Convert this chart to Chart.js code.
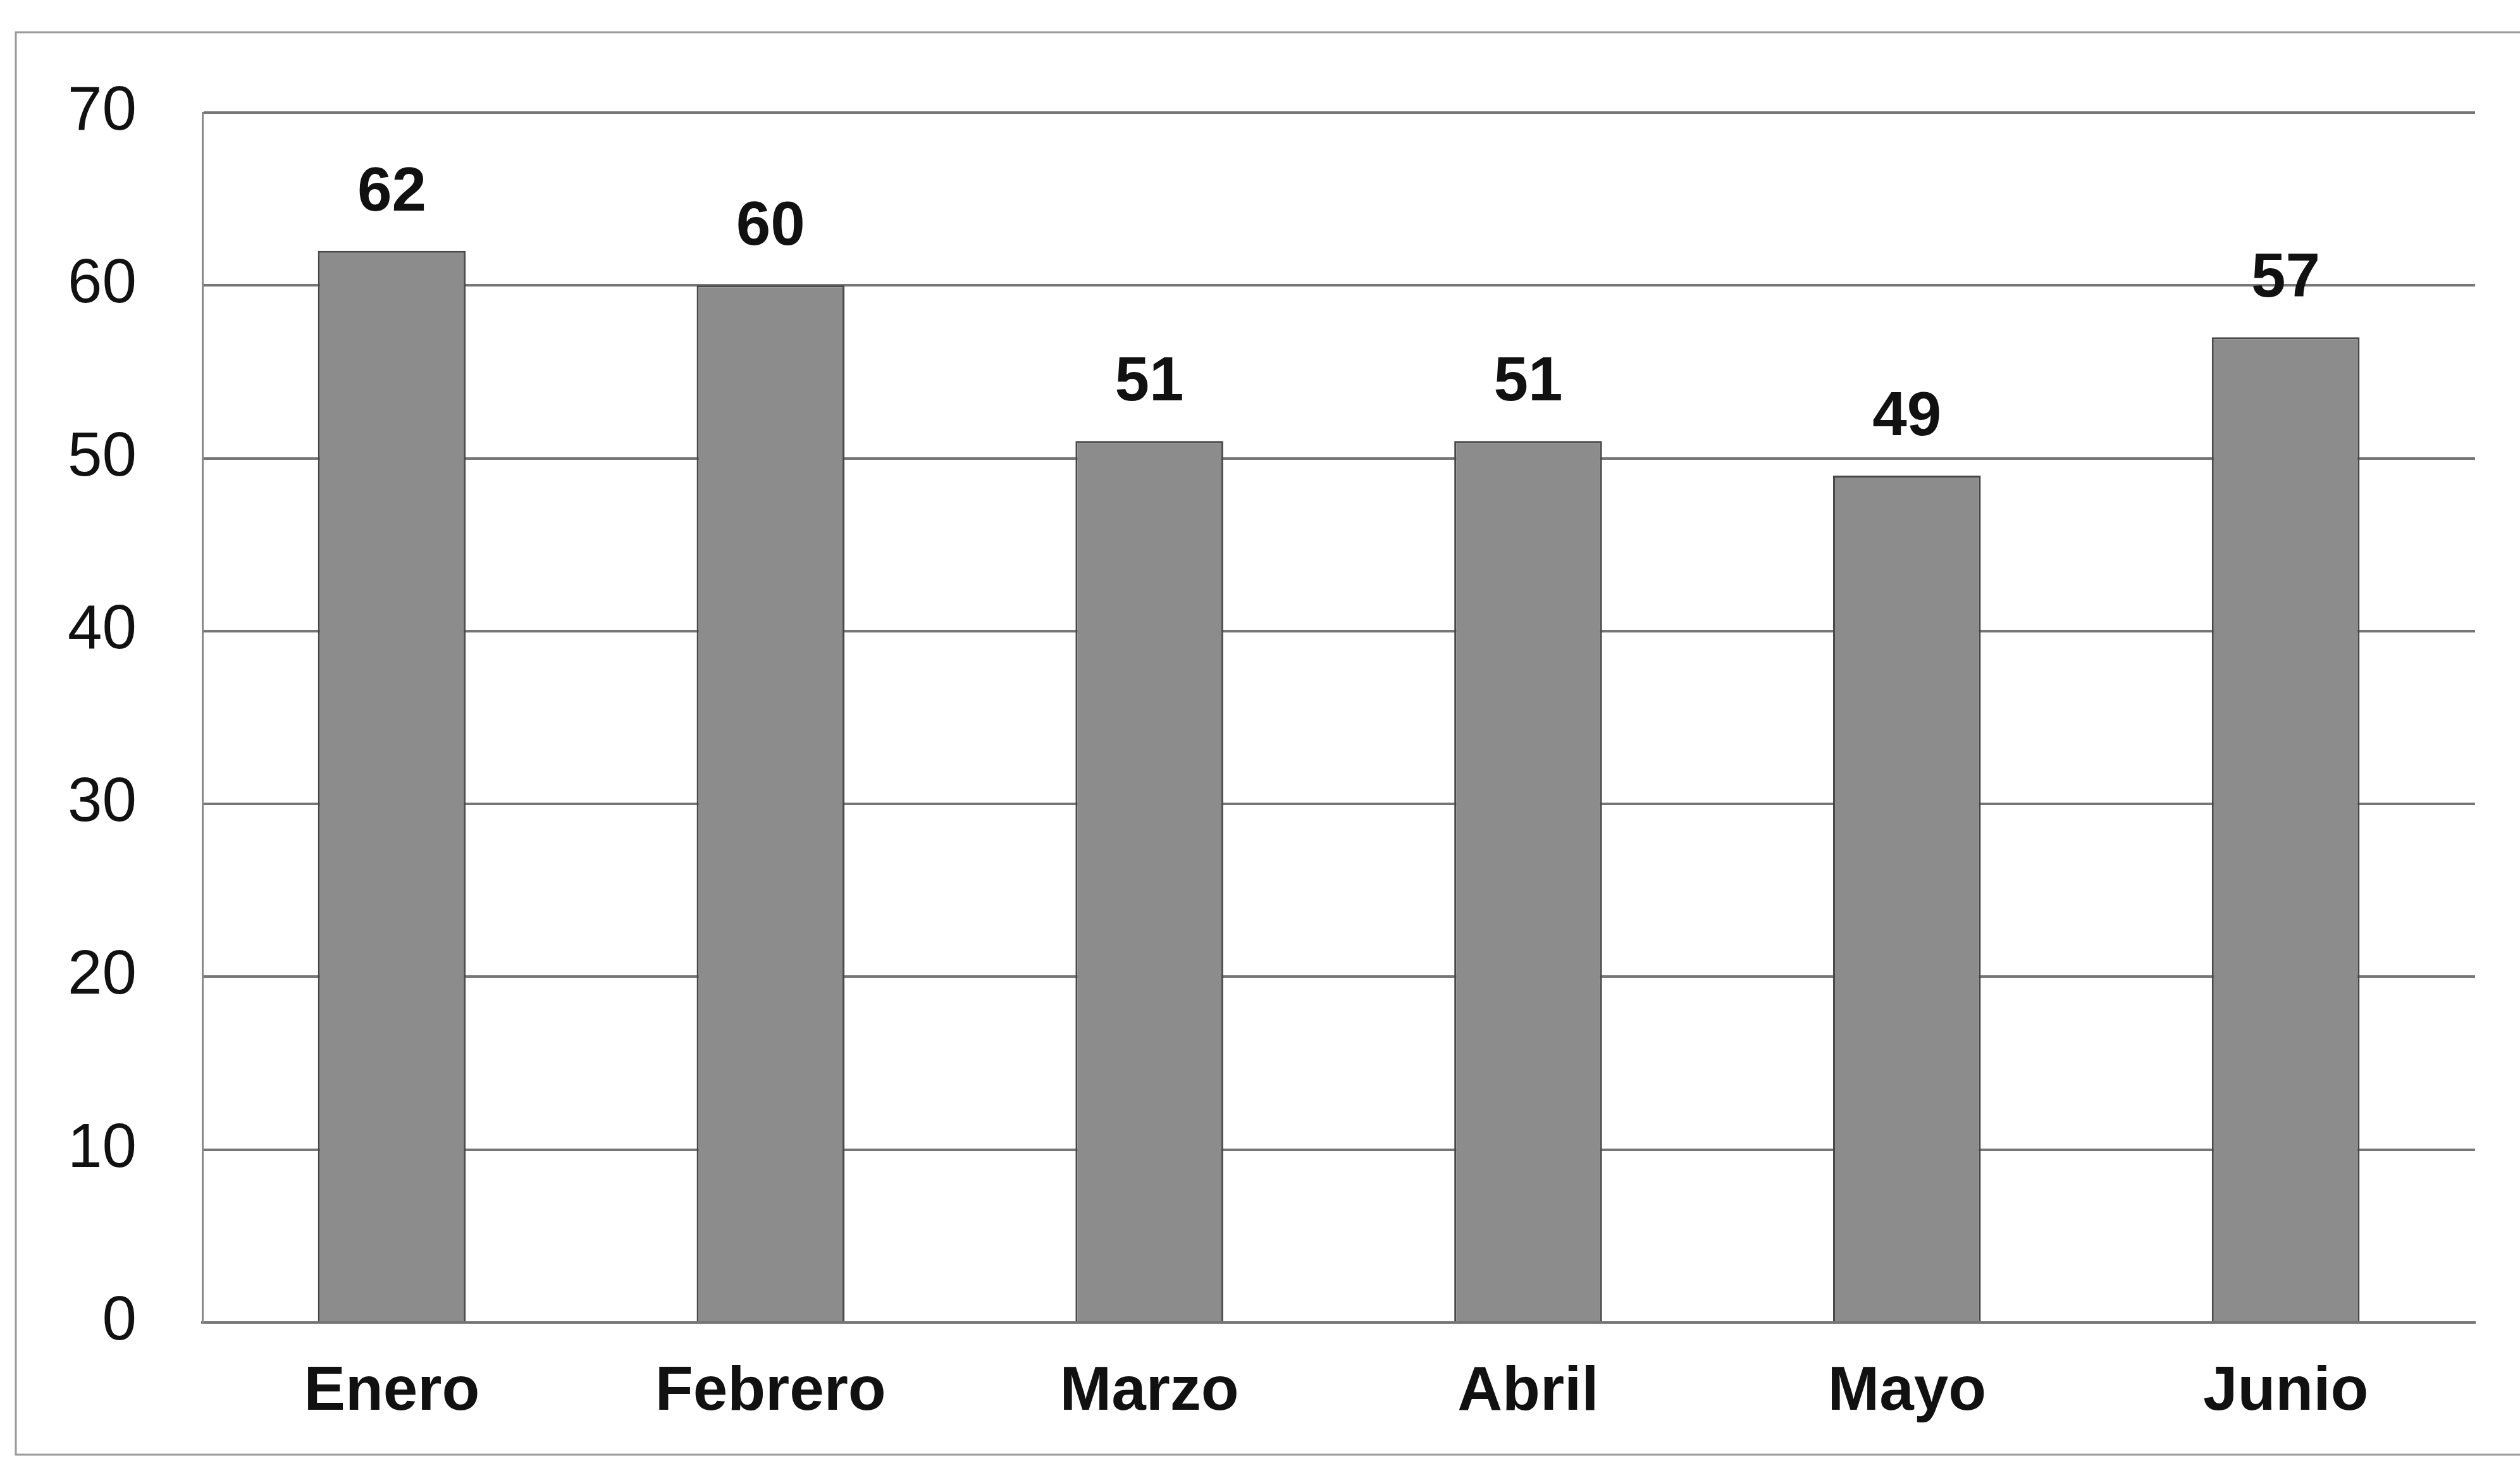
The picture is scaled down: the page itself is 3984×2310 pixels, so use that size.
<!DOCTYPE html>
<html>
<head>
<meta charset="utf-8">
<script src="https://cdn.jsdelivr.net/npm/chart.js@4"></script>
<style>
  html, body { margin: 0; padding: 0; background: #fff; }
  #wrap { width: 3984px; height: 2310px; }
</style>
</head>
<body>
<div id="wrap"><canvas id="barChart"></canvas></div>
<script>
var months = ['Enero', 'Febrero', 'Marzo', 'Abril', 'Mayo', 'Junio'];
var values = [62, 60, 51, 51, 49, 57];
var yTicks = [0, 10, 20, 30, 40, 50, 60, 70];

// outer frame of the pasted chart
var framePlugin = {
    id: 'frame',
    beforeDraw: function (chart) {
        var c = chart.ctx;
        c.save();
        c.fillStyle = '#fff';
        c.fillRect(0, 0, chart.width, chart.height);
        c.strokeStyle = '#9a9a9a';
        c.lineWidth = 3;
        c.strokeRect(25, 51, 4100, 2249);
        c.restore();
    }
};

// value labels over the bars
var valueLabels = {
    id: 'valueLabels',
    afterDatasetsDraw: function (chart) {
        var c = chart.ctx;
        var meta = chart.getDatasetMeta(0);
        c.save();
        c.font = 'bold 98px "Liberation Sans", Arial, sans-serif';
        c.fillStyle = '#111';
        c.textAlign = 'center';
        c.textBaseline = 'alphabetic';
        meta.data.forEach(function (bar, i) {
            c.fillText(values[i], bar.x, bar.y - 64);
        });
        c.restore();
    }
};

var ctx = document.getElementById('barChart').getContext('2d');
new Chart(ctx, {
    type: 'bar',
    data: {
        labels: months,
        datasets: [{
            data: values,
            backgroundColor: '#8c8c8c',
            borderColor: '#484848',
            borderWidth: 3,
            barPercentage: 0.39,
            categoryPercentage: 1
        }]
    },
    options: {
        responsive: true,
        maintainAspectRatio: false,
        animation: false,
        layout: { padding: { top: 178, right: 71, left: 0, bottom: 0 } },
        plugins: {
            legend: { display: false },
            tooltip: { enabled: false }
        },
        scales: {
            x: {
                grid: { display: false, drawTicks: false },
                border: { display: true, color: '#767676', width: 4 },
                ticks: {
                    color: '#111',
                    padding: 52,
                    font: { family: '"Liberation Sans", Arial, sans-serif', size: 98, weight: 'bold' }
                },
                afterFit: function (scale) { scale.height = 219; }
            },
            y: {
                min: 0,
                max: 70,
                afterBuildTicks: function (scale) {
                    scale.ticks = yTicks.map(function (v) { return { value: v }; });
                },
                grid: { color: '#767676', lineWidth: 4, drawTicks: false },
                border: { display: true, color: '#8a8a8a', width: 3 },
                ticks: {
                    color: '#111',
                    padding: 104,
                    font: { family: '"Liberation Sans", Arial, sans-serif', size: 98 }
                },
                afterFit: function (scale) { scale.width = 320; }
            }
        }
    },
    plugins: [framePlugin, valueLabels]
});
</script>
</body>
</html>
